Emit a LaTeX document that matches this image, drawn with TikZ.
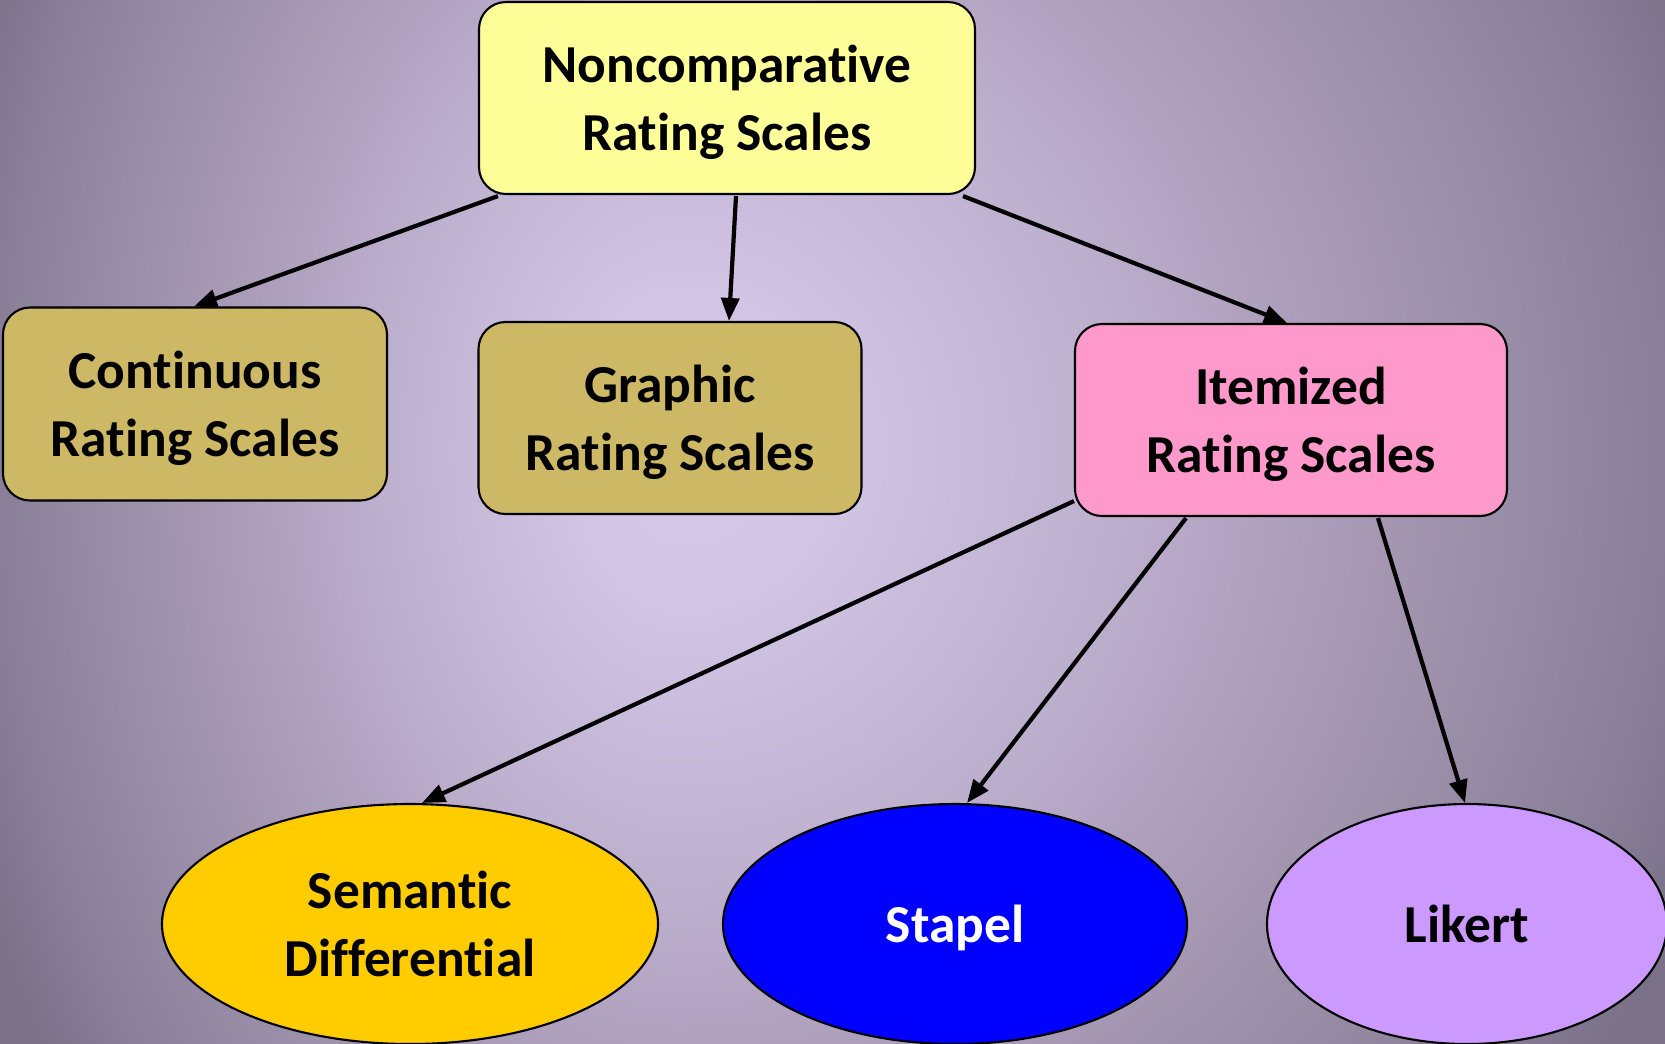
\documentclass[tikz,border=0pt]{standalone}
\usepackage{fontspec}
\setmainfont{Carlito}[Ligatures=NoCommon]
\usetikzlibrary{shapes.geometric,arrows.meta,calc}

\definecolor{bgA}{HTML}{D5C8E8}
\definecolor{bgB}{HTML}{D2C4E4}
\definecolor{bgC}{HTML}{BDAFCE}
\definecolor{bgD}{HTML}{A597B2}
\definecolor{bgE}{HTML}{8A7F98}
\definecolor{bgF}{HTML}{7A7088}
\definecolor{topfill}{HTML}{FFFF99}
\definecolor{olivefill}{HTML}{CDB866}
\definecolor{pinkfill}{HTML}{FF99CC}
\definecolor{goldfill}{HTML}{FFCC00}
\definecolor{bluefill}{HTML}{0000FF}
\definecolor{lilacfill}{HTML}{CC99FF}

% soft backdrop; the central 50bp square of the shading fills the shaded rectangle
\pgfdeclareradialshading{backdrop}{\pgfpoint{0bp}{0bp}}{%
  color(0bp)=(bgA); color(4bp)=(bgB); color(11bp)=(bgC);
  color(18bp)=(bgD); color(25bp)=(bgE); color(28bp)=(bgF); color(50bp)=(bgF)}

\tikzset{
  labelfont/.style={font=\bfseries\fontsize{15.2}{19.3}\selectfont},
  box/.style={draw=black, line width=0.6pt, rounded corners=2.7mm,
    align=center, labelfont, inner sep=0pt, text depth=0pt},
  oval/.style={ellipse, draw=black, line width=0.6pt, align=center,
    labelfont, inner sep=0pt, text depth=0pt},
  arr/.style={line width=1.2pt, -{Triangle[length=2.3mm,width=1.8mm]}},
}

\begin{document}
\begin{tikzpicture}[x=0.1mm, y=-0.1mm]
\useasboundingbox (0,0) rectangle (1665,1043);
% backdrop: brightest near (680,450), falling off to every edge
\begin{scope}
  \clip (0,0) rectangle (681,1043);
  \shade[shading=backdrop] (0,-550) rectangle (1360,1450);
\end{scope}
\begin{scope}
  \clip (680,0) rectangle (1665,1043);
  \shade[shading=backdrop] (-305,-550) rectangle (1665,1450);
\end{scope}

% upper level
\node[box, fill=topfill, minimum width=49.6mm, minimum height=19.2mm]
  (top) at (727,98) {Noncomparative\\Rating Scales};
\node[box, fill=olivefill, minimum width=38.4mm, minimum height=19.3mm]
  (cont) at (195,404) {Continuous\\Rating Scales};
\node[box, fill=olivefill, minimum width=38.3mm, minimum height=19.2mm]
  (graph) at (670,418) {Graphic\\Rating Scales};
\node[box, fill=pinkfill, minimum width=43.2mm, minimum height=19.2mm]
  (item) at (1291,420) {Itemized\\Rating Scales};

% itemized scale types
\node[oval, fill=goldfill, minimum width=49.6mm, minimum height=24mm]
  (sem) at (410,924) {Semantic\\Differential};
\node[oval, fill=bluefill, text=white, minimum width=46.4mm, minimum height=24mm]
  (stapel) at (955,924) {Stapel};
\node[oval, fill=lilacfill, minimum width=40mm, minimum height=24mm]
  (likert) at (1467,924) {Likert};

% connectors
\draw[arr] ($(top.south west)+(20,1)$) -- ($(cont.north)+(-1,0)$);
\draw[arr] ($(top.south)+(9,1)$) -- ($(graph.north)+(59,0)$);
\draw[arr] ($(top.south east)+(-13,1)$) -- ($(item.north)+(-4,0)$);
\draw[arr] ($(item.south west)+(0,-16)$) -- ($(sem.north)+(12,0)$);
\draw[arr] ($(item.south)+(-105,1)$) -- ($(stapel.north)+(12,0)$);
\draw[arr] ($(item.south)+(87,1)$) -- ($(likert.north)+(-2,0)$);
\end{tikzpicture}
\end{document}
